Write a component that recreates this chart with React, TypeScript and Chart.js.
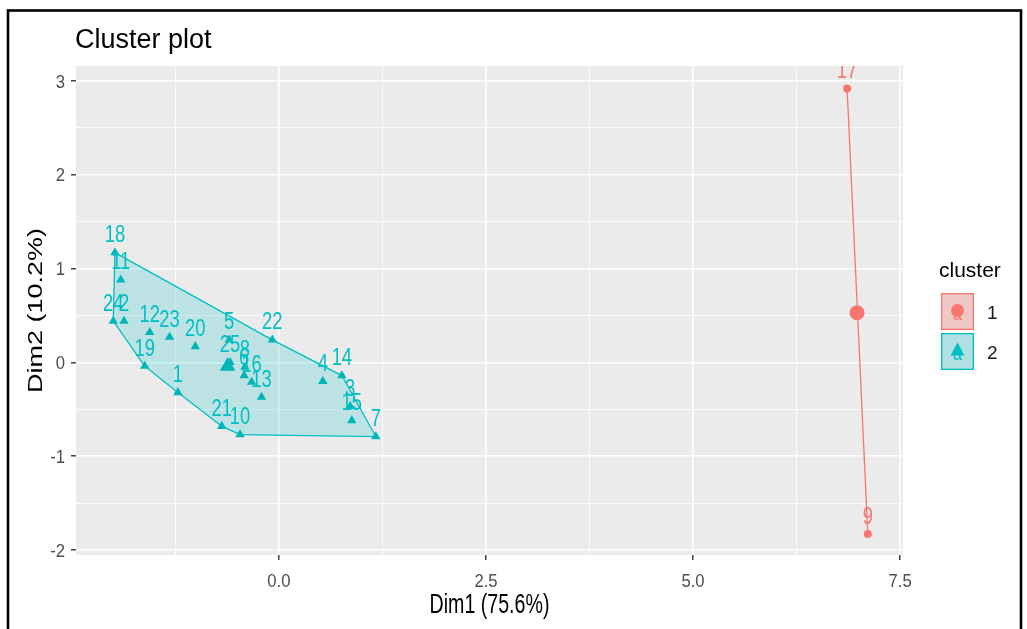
import React, { useEffect, useRef } from "react";
import { Chart, registerables } from "chart.js";

Chart.register(...registerables);

const FONT = '"Liberation Sans", Arial, Helvetica, sans-serif';
const RED = "#F8766D";
const TEAL = "#00BFC4";

// ---- texts ----
const plotTitle = "Cluster plot";
const xAxisTitle = "Dim1 (75.6%)";
const yAxisTitle = "Dim2 (10.2%)";
const legendTitle = "cluster";
const clusterNames = ["1", "2"];

// ---- cluster 1 (red) ----
const cluster1Labels = ["17", "9"];
const cluster1X = [6.86, 7.11];
const cluster1Y = [2.92, -1.83];
const cluster1Hull = ["17", "9"];
const cluster1Center = [6.98, 0.53];

// ---- cluster 2 (teal) ----
const cluster2Labels = ["18", "11", "24", "2", "12", "23", "20", "19", "1", "5", "22", "25", "8", "6", "16", "13", "21", "10", "4", "14", "3", "15", "7"];
const cluster2X = [-1.98, -1.91, -2.0, -1.87, -1.56, -1.32, -1.01, -1.62, -1.22, -0.6, -0.08, -0.59, -0.41, -0.42, -0.33, -0.21, -0.69, -0.47, 0.53, 0.76, 0.86, 0.88, 1.17];
const cluster2Y = [1.17, 0.88, 0.44, 0.44, 0.32, 0.27, 0.17, -0.04, -0.32, 0.24, 0.24, 0.0, -0.05, -0.14, -0.21, -0.37, -0.68, -0.77, -0.2, -0.14, -0.47, -0.62, -0.79];
const cluster2Hull = ["18", "22", "14", "7", "10", "21", "1", "19", "24"];
const cluster2Center = [-0.62, -0.04];

// ---- axes ----
const xRange = [-2.45, 7.535];
const yRange = [-2.053, 3.16];
const xMajorTicks = [0, 2.5, 5, 7.5];
const xMinorTicks = [-1.25, 1.25, 3.75, 6.25];
const yMajorTicks = [-2, -1, 0, 1, 2, 3];
const yMinorTicks = [-1.5, -0.5, 0.5, 1.5, 2.5];

function pts(xs: number[], ys: number[]) {
  return xs.map((x, i) => ({ x, y: ys[i] }));
}
function hullPts(order: string[], labels: string[], xs: number[], ys: number[]) {
  const p = order.map((l) => {
    const i = labels.indexOf(l);
    return { x: xs[i], y: ys[i] };
  });
  p.push({ ...p[0] });
  return p;
}

function drawText(
  ctx: CanvasRenderingContext2D,
  text: string,
  x: number,
  y: number,
  o: { size: number; color: string; align?: CanvasTextAlign; baseline?: CanvasTextBaseline; sx?: number; sy?: number; rot?: number }
) {
  ctx.save();
  ctx.translate(x, y);
  if (o.rot) ctx.rotate(o.rot);
  ctx.scale(o.sx ?? 1, o.sy ?? 1);
  ctx.font = `${o.size}px ${FONT}`;
  ctx.fillStyle = o.color;
  ctx.textAlign = o.align ?? "left";
  ctx.textBaseline = o.baseline ?? "alphabetic";
  ctx.fillText(text, 0, 0);
  ctx.restore();
}

const isIn = (arr: number[], v: number) => arr.some((a) => Math.abs(a - v) < 1e-6);

const customDraw = {
  id: "customDraw",
  beforeDraw(chart: any) {
    const { ctx, chartArea: a } = chart;
    ctx.save();
    ctx.fillStyle = "#FFFFFF";
    ctx.fillRect(0, 0, chart.width, chart.height);
    ctx.fillStyle = "#EBEBEB";
    ctx.fillRect(a.left, a.top, a.right - a.left, a.bottom - a.top);
    ctx.restore();
  },
  beforeDatasetsDraw(chart: any) {
    const { ctx, chartArea: a } = chart;
    chart.data.datasets.forEach((ds: any, i: number) => {
      if (!ds.hullFill) return;
      const meta = chart.getDatasetMeta(i);
      ctx.save();
      ctx.beginPath();
      ctx.rect(a.left, a.top, a.right - a.left, a.bottom - a.top);
      ctx.clip();
      ctx.beginPath();
      meta.data.forEach((el: any, j: number) => {
        if (j === 0) ctx.moveTo(el.x, el.y);
        else ctx.lineTo(el.x, el.y);
      });
      ctx.closePath();
      ctx.fillStyle = ds.hullFill;
      ctx.fill();
      ctx.restore();
    });
  },
  afterDatasetsDraw(chart: any) {
    const { ctx, chartArea: a } = chart;
    ctx.save();
    ctx.beginPath();
    ctx.rect(a.left, a.top, a.right - a.left, a.bottom - a.top);
    ctx.clip();
    chart.data.datasets.forEach((ds: any, i: number) => {
      if (!ds.pointLabels) return;
      const meta = chart.getDatasetMeta(i);
      meta.data.forEach((el: any, j: number) => {
        drawText(ctx, ds.pointLabels[j], el.x, el.y - 10.5, {
          size: 23,
          color: ds.labelColor,
          align: "center",
          sx: 0.8,
        });
      });
    });
    ctx.restore();
  },
  afterDraw(chart: any) {
    const { ctx, chartArea: a } = chart;
    const xs = chart.scales.x;
    const ys = chart.scales.y;
    // title
    drawText(ctx, plotTitle, 75, 48, { size: 27, color: "#000000" });
    // x tick labels
    xMajorTicks.forEach((v) => {
      drawText(ctx, v.toFixed(1), xs.getPixelForValue(v), 587, {
        size: 18.5,
        color: "#4D4D4D",
        align: "center",
        sx: 0.9,
      });
    });
    // y tick labels
    yMajorTicks.forEach((v) => {
      drawText(ctx, String(v), 65, ys.getPixelForValue(v) + 6.5, {
        size: 18.5,
        color: "#4D4D4D",
        align: "right",
        sx: 0.9,
      });
    });
    // axis titles
    drawText(ctx, xAxisTitle, (a.left + a.right) / 2, 613, {
      size: 28,
      color: "#000000",
      align: "center",
      sx: 0.7,
    });
    drawText(ctx, yAxisTitle, 42, (a.top + a.bottom) / 2, {
      size: 27,
      color: "#000000",
      align: "center",
      rot: -Math.PI / 2,
      sy: 0.72,
    });
    // legend
    drawText(ctx, legendTitle, 939, 277, { size: 21, color: "#000000" });
    const keys = [
      { y: 293, color: RED, fill: "rgba(248,118,109,0.3)", shape: "circle" },
      { y: 333, color: TEAL, fill: "rgba(0,191,196,0.25)", shape: "triangle" },
    ];
    keys.forEach((k, i) => {
      const kx = 941, kw = 33, kh = 37;
      ctx.save();
      ctx.fillStyle = "#EBEBEB";
      ctx.fillRect(kx, k.y, kw, kh);
      ctx.fillStyle = k.fill;
      ctx.fillRect(kx, k.y, kw, kh);
      ctx.strokeStyle = k.color;
      ctx.lineWidth = 1.3;
      ctx.strokeRect(kx + 0.65, k.y + 0.65, kw - 1.3, kh - 1.3);
      const cx = kx + kw / 2, cy = k.y + kh / 2;
      ctx.fillStyle = k.color;
      ctx.beginPath();
      if (k.shape === "circle") {
        ctx.arc(cx, cy - 1, 6.5, 0, Math.PI * 2);
      } else {
        ctx.moveTo(cx, cy - 9);
        ctx.lineTo(cx + 7, cy + 4);
        ctx.lineTo(cx - 7, cy + 4);
        ctx.closePath();
      }
      ctx.fill();
      ctx.restore();
      drawText(ctx, "a", cx, cy + 8, { size: 20, color: k.color, align: "center", sx: 0.8 });
      drawText(ctx, clusterNames[i], 987, k.y + kh / 2 + 7, { size: 19, color: "#1A1A1A" });
    });
    // outer frame
    ctx.save();
    ctx.strokeStyle = "#000000";
    ctx.lineWidth = 2.6;
    ctx.strokeRect(8, 10.5, 1013, 640);
    ctx.restore();
  },
};

export default function App() {
  const ref = useRef<HTMLCanvasElement>(null);
  useEffect(() => {
    const canvas = ref.current;
    if (!canvas) return;
    const gridOpts = (major: number[]) => ({
      color: "#FFFFFF",
      lineWidth: (c: any) => (c.tick && isIn(major, c.tick.value) ? 1.6 : 0.8),
      tickColor: (c: any) => (c.tick && isIn(major, c.tick.value) ? "#333333" : "rgba(0,0,0,0)"),
      tickLength: 5,
      tickWidth: 1.4,
      drawTicks: true,
      drawOnChartArea: true,
    });
    const chart = new Chart(canvas, {
      type: "scatter",
      data: {
        datasets: [
          {
            label: "hull2",
            data: hullPts(cluster2Hull, cluster2Labels, cluster2X, cluster2Y),
            showLine: true,
            pointRadius: 0,
            borderColor: TEAL,
            borderWidth: 1.3,
            hullFill: "rgba(0,191,196,0.2)",
            order: 5,
          } as any,
          {
            label: "hull1",
            data: hullPts(cluster1Hull, cluster1Labels, cluster1X, cluster1Y),
            showLine: true,
            pointRadius: 0,
            borderColor: RED,
            borderWidth: 1.3,
            hullFill: "rgba(248,118,109,0.2)",
            order: 5,
          } as any,
          {
            label: "2",
            data: pts(cluster2X, cluster2Y),
            pointStyle: "triangle",
            pointRadius: 5.4,
            backgroundColor: "#00B5B8",
            borderColor: "#00B5B8",
            borderWidth: 0,
            pointLabels: cluster2Labels,
            labelColor: TEAL,
            order: 3,
          } as any,
          {
            label: "1",
            data: pts(cluster1X, cluster1Y),
            pointStyle: "circle",
            pointRadius: 4,
            backgroundColor: RED,
            borderColor: RED,
            borderWidth: 0,
            pointLabels: cluster1Labels,
            labelColor: RED,
            order: 3,
          } as any,
          {
            label: "center2",
            data: [{ x: cluster2Center[0], y: cluster2Center[1] }],
            pointStyle: "triangle",
            pointRadius: 9,
            backgroundColor: "#00B5B8",
            borderWidth: 0,
            order: 1,
          } as any,
          {
            label: "center1",
            data: [{ x: cluster1Center[0], y: cluster1Center[1] }],
            pointStyle: "circle",
            pointRadius: 7.5,
            backgroundColor: RED,
            borderWidth: 0,
            order: 1,
          } as any,
        ],
      },
      options: {
        responsive: false,
        animation: false,
        devicePixelRatio: 1,
        events: [],
        layout: { padding: { left: 0, top: 66, right: 124, bottom: 0 } },
        plugins: {
          legend: { display: false },
          tooltip: { enabled: false },
          title: { display: false },
        },
        scales: {
          x: {
            type: "linear",
            position: "bottom",
            min: xRange[0],
            max: xRange[1],
            afterBuildTicks: (s: any) => {
              s.ticks = [...xMinorTicks, ...xMajorTicks].sort((p, q) => p - q).map((v) => ({ value: v }));
            },
            afterFit: (s: any) => {
              s.height = 74;
            },
            ticks: { display: false },
            grid: gridOpts(xMajorTicks) as any,
            border: { display: false },
          },
          y: {
            type: "linear",
            position: "left",
            min: yRange[0],
            max: yRange[1],
            afterBuildTicks: (s: any) => {
              s.ticks = [...yMinorTicks, ...yMajorTicks].sort((p, q) => p - q).map((v) => ({ value: v }));
            },
            afterFit: (s: any) => {
              s.width = 76;
            },
            ticks: { display: false },
            grid: gridOpts(yMajorTicks) as any,
            border: { display: false },
          },
        },
      },
      plugins: [customDraw],
    } as any);
    return () => chart.destroy();
  }, []);
  return (
    <div style={{ position: "fixed", left: 0, top: 0, width: 1027, height: 629, background: "#FFFFFF" }}>
      <canvas ref={ref} width={1027} height={629} style={{ display: "block", width: 1027, height: 629 }} />
    </div>
  );
}
